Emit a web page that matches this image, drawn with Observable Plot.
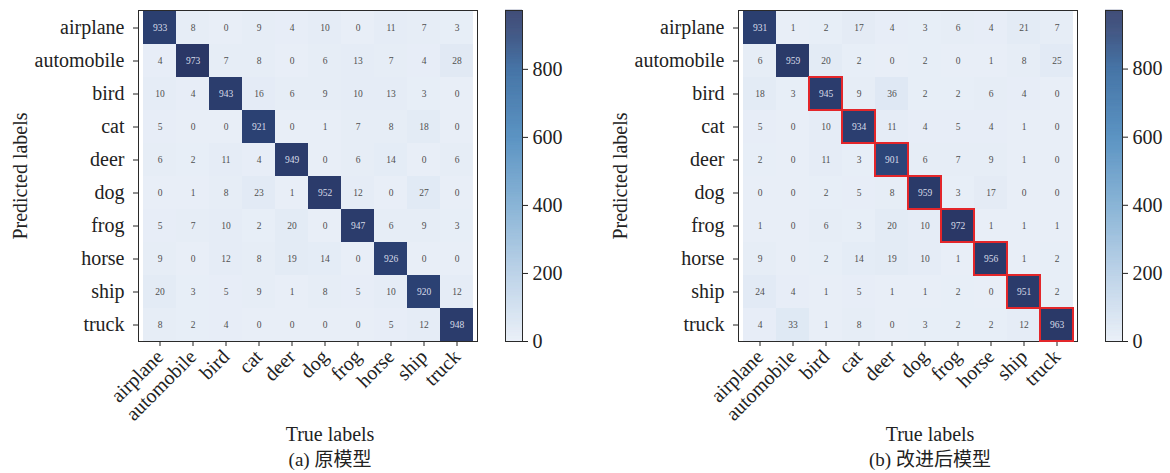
<!DOCTYPE html>
<html>
<head>
<meta charset="utf-8">
<script src="https://cdn.jsdelivr.net/npm/d3@7"></script>
<script src="https://cdn.jsdelivr.net/npm/@observablehq/plot@0.6"></script>
<style>
  html, body { margin: 0; padding: 0; background: #fff; }
  #root { position: relative; width: 1170px; height: 473px; overflow: hidden; background: #fff;
          font-family: "Liberation Serif", "Noto Sans CJK SC", serif; color: #222; }
  .abs { position: absolute; }
  .lbl { position: absolute; white-space: nowrap; transform: translate(-50%, -50%); font-size: 20px; line-height: 1; }
  .cap { font-size: 19px; }
  .ylab { transform: translate(-50%, -50%) rotate(-90deg); }
</style>
</head>
<body>
<div id="root"></div>
<script>
const classes = ["airplane", "automobile", "bird", "cat", "deer", "dog", "frog", "horse", "ship", "truck"];

// rows = predicted labels, columns = true labels
const originalMatrix = [
  [933, 8, 0, 9, 4, 10, 0, 11, 7, 3],
  [4, 973, 7, 8, 0, 6, 13, 7, 4, 28],
  [10, 4, 943, 16, 6, 9, 10, 13, 3, 0],
  [5, 0, 0, 921, 0, 1, 7, 8, 18, 0],
  [6, 2, 11, 4, 949, 0, 6, 14, 0, 6],
  [0, 1, 8, 23, 1, 952, 12, 0, 27, 0],
  [5, 7, 10, 2, 20, 0, 947, 6, 9, 3],
  [9, 0, 12, 8, 19, 14, 0, 926, 0, 0],
  [20, 3, 5, 9, 1, 8, 5, 10, 920, 12],
  [8, 2, 4, 0, 0, 0, 0, 5, 12, 948]
];

const improvedMatrix = [
  [931, 1, 2, 17, 4, 3, 6, 4, 21, 7],
  [6, 959, 20, 2, 0, 2, 0, 1, 8, 25],
  [18, 3, 945, 9, 36, 2, 2, 6, 4, 0],
  [5, 0, 10, 934, 11, 4, 5, 4, 1, 0],
  [2, 0, 11, 3, 901, 6, 7, 9, 1, 0],
  [0, 0, 2, 5, 8, 959, 3, 17, 0, 0],
  [1, 0, 6, 3, 20, 10, 972, 1, 1, 1],
  [9, 0, 2, 14, 19, 10, 1, 956, 1, 2],
  [24, 4, 1, 5, 1, 1, 2, 0, 951, 2],
  [4, 33, 1, 8, 0, 3, 2, 2, 12, 963]
];

const highlightedClasses = ["bird", "cat", "deer", "dog", "frog", "horse", "ship", "truck"];
const colorbarTicks = [0, 200, 400, 600, 800];
const xTitle = "True labels";
const yTitle = "Predicted labels";
const captions = ["(a) 原模型", "(b) 改进后模型"];

const root = document.getElementById("root");
const stopValues = [0, 200, 400, 600, 800, 900];
const stopColors = ["#e8eef7", "#b4cde5", "#7babd1", "#4786bb", "#2f639b", "#2c4578", "#2a3766"];

function place(el, left, top) {
  el.classList.add("abs");
  el.style.left = left + "px";
  el.style.top = top + "px";
  root.appendChild(el);
}
function label(text, x, y, cls) {
  const d = document.createElement("div");
  d.className = "lbl " + (cls || "");
  d.textContent = text;
  d.style.left = x + "px";
  d.style.top = y + "px";
  root.appendChild(d);
}

function panel(matrix, offset, caption, highlight) {
  const data = matrix.flatMap((row, i) => row.map((v, j) => ({pred: classes[i], truth: classes[j], value: v})));
  const vmax = d3.max(data, d => d.value);
  const color = {type: "linear", domain: [...stopValues, vmax], range: stopColors, interpolate: "rgb"};
  const marks = [
    Plot.cell(data, {x: "truth", y: "pred", fill: "value"}),
    Plot.text(data.filter(d => d.value <= 500), {x: "truth", y: "pred", text: "value", fill: "#505050", fontSize: 9.5}),
    Plot.text(data.filter(d => d.value > 500), {x: "truth", y: "pred", text: "value", fill: "#d8dce8", fontSize: 9.5}),
    Plot.frame({stroke: "#2a2a2a"})
  ];
  if (highlight) {
    marks.push(Plot.cell(data.filter(d => d.pred === d.truth && highlight.includes(d.pred)),
      {x: "truth", y: "pred", fill: "none", stroke: "#e3262a", strokeWidth: 2}));
  }
  const m = Plot.plot({
    width: 500, height: 420,
    marginLeft: 138, marginRight: 23, marginTop: 10, marginBottom: 79,
    style: {fontFamily: "Liberation Serif, serif", fontSize: "20px", color: "#222", background: "transparent", overflow: "visible"},
    x: {domain: classes, padding: 0, label: null, tickRotate: -45, tickSize: 5, tickPadding: 7},
    y: {domain: classes, padding: 0, label: null, tickSize: 5, tickPadding: 9},
    color,
    marks
  });
  place(m, offset, 0);

  const bar = d3.range(0, vmax, 1).map(v => ({v}));
  const cb = Plot.plot({
    width: 80, height: 350,
    marginLeft: 0, marginRight: 63, marginTop: 10, marginBottom: 9,
    style: {fontFamily: "Liberation Serif, serif", fontSize: "20px", color: "#222", background: "transparent", overflow: "visible"},
    x: {domain: [0, 1], axis: null},
    y: {domain: [0, vmax], axis: "right", ticks: colorbarTicks, tickSize: 5, tickPadding: 5, label: null, tickFormat: d3.format("d")},
    color,
    marks: [
      Plot.rect(bar, {x1: 0, x2: 1, y1: "v", y2: d => d.v + 1.6, fill: "v"}),
      Plot.frame({stroke: "#2a2a2a"})
    ]
  });
  place(cb, 505 + offset, 0);

  label(yTitle, 20 + offset, 176, "ylab");
  label(xTitle, 330 + offset, 434);
  label(caption, 330 + offset, 459, "cap");
}

panel(originalMatrix, 0, captions[0], null);
panel(improvedMatrix, 600, captions[1], highlightedClasses);
</script>
</body>
</html>
